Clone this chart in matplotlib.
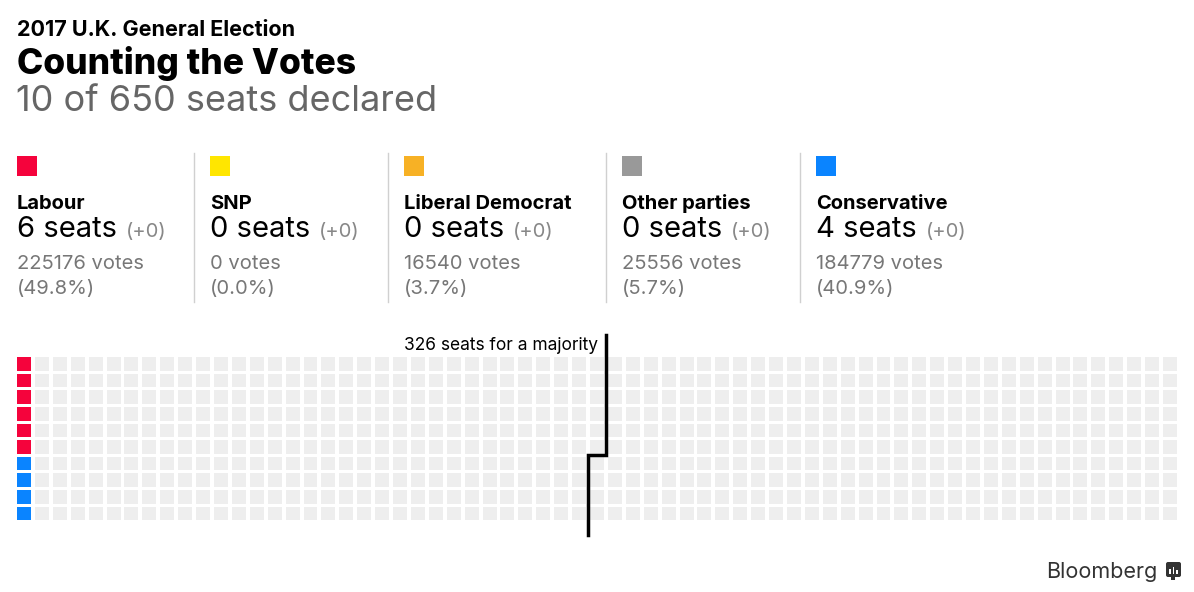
import matplotlib.pyplot as plt
from matplotlib.patches import Rectangle, FancyBboxPatch

plt.rcParams['font.family'] = ['Inter', 'DejaVu Sans']

# data
parties = ['Labour', 'SNP', 'Liberal Democrat', 'Other parties', 'Conservative']
seats = [6, 0, 0, 0, 4]
change = [0, 0, 0, 0, 0]
votes = [225176, 0, 16540, 25556, 184779]
vote_pct = [49.8, 0.0, 3.7, 5.7, 40.9]
party_colors = ['#f5033c', '#ffe600', '#f7b125', '#999999', '#0a84ff']
total_seats = 650
majority = 326
n_rows = 10

W, H = 1194, 592
fig = plt.figure(figsize=(W / 100, H / 100), dpi=100)

# full-figure axes in pixel units for the text blocks
ax = fig.add_axes([0, 0, 1, 1])
ax.set_xlim(0, W)
ax.set_ylim(H, 0)
ax.axis('off')

declared = sum(seats)
ax.text(17, 36, '2017 U.K. General Election', fontsize=15.5, fontweight='bold', va='baseline')
ax.text(17, 74, 'Counting the Votes', fontsize=25.5, fontweight='heavy', va='baseline')
ax.text(16, 111, f'{declared} of {total_seats} seats declared', fontsize=26,
        color='#666666', va='baseline')

col_x = [17, 210, 404, 622, 816]   # layout of the party blocks
sep_x = [194, 388, 606, 800]
for x in sep_x:
    ax.plot([x, x], [153, 302], color='#d0d0d0', lw=1)

seat_texts = []
for i, name in enumerate(parties):
    x = col_x[i]
    ax.add_patch(Rectangle((x, 156), 20, 20, color=party_colors[i], lw=0))
    ax.text(x, 209, name, fontsize=14.5, fontweight='bold', va='baseline')
    t = ax.text(x, 237, f'{seats[i]} seats', fontsize=21, va='baseline')
    seat_texts.append(t)
    ax.text(x, 269, f'{votes[i]} votes', fontsize=14.5, color='#777777', va='baseline')
    ax.text(x, 294, f'({vote_pct[i]:.1f}%)', fontsize=14.5, color='#777777', va='baseline')

fig.canvas.draw()
rend = fig.canvas.get_renderer()
for i, t in enumerate(seat_texts):
    bb = t.get_window_extent(rend)
    x_end = col_x[i] + bb.width
    ax.text(x_end + 9, 237, f'({change[i]:+d})', fontsize=14.5, color='#888888', va='baseline')

# Bloomberg mark
ax.text(1157, 578, 'Bloomberg', fontsize=15.5, color='#333333', ha='right', va='baseline')
ax.add_patch(FancyBboxPatch((1166, 562), 15, 15, boxstyle='round,pad=0,rounding_size=2',
                            color='#333333', lw=0))
ax.add_patch(Rectangle((1171, 576), 4, 4, color='#333333', lw=0))
for bx, bh in [(1169, 5), (1172.5, 7), (1176, 4)]:
    ax.add_patch(Rectangle((bx, 574 - bh), 1.6, bh, color='white', lw=0))

# waffle of seats, filled column by column
n_cols = total_seats // n_rows
sq_w, sq_h = 0.78, 0.82
wax = fig.add_axes([17 / W, 1 - 540 / H, (1177 - 17) / W, 210 / H])
wax.set_xlim(0, n_cols - 1 + sq_w)
wax.set_ylim(11.0, -1.63)
wax.axis('off')

fill = []
for s, c in zip(seats, party_colors):
    fill += [c] * s
for k in range(total_seats):
    col, row = divmod(k, n_rows)
    c = fill[k] if k < len(fill) else '#eeeeee'
    wax.add_patch(Rectangle((col, row), sq_w, sq_h, color=c, lw=0))

# majority step line
mcol, mrow = divmod(majority, n_rows)
gap_x = (1 + sq_w) / 2
gap_y = (1 + sq_h) / 2
top_x = mcol - 1 + gap_x + (1 if mrow else 0)
bot_x = mcol - 1 + gap_x
step_y = mrow - 1 + gap_y
wax.plot([top_x, top_x, bot_x, bot_x], [-1.3, step_y, step_y, n_rows + 0.72],
         color='black', lw=2.5, solid_joinstyle='miter', clip_on=False)
wax.text(top_x - 0.45, -0.72, f'{majority} seats for a majority', fontsize=12.5,
         ha='right', va='center')

fig.savefig('out.png', dpi=100)
